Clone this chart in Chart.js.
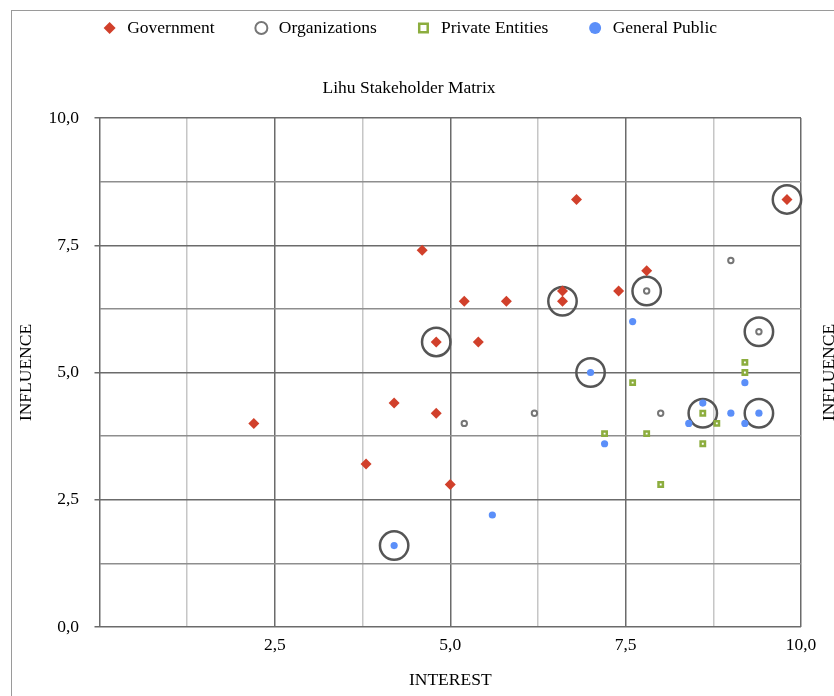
<!DOCTYPE html>
<html>
<head>
<meta charset="utf-8">
<title>Lihu Stakeholder Matrix</title>
<script src="https://cdn.jsdelivr.net/npm/chart.js@4.4.0/dist/chart.umd.min.js"></script>
<style>
  body { margin: 0; background: #fff; overflow: hidden; }
  #frame { position: absolute; left: 11px; top: 10px; width: 900px; height: 800px;
           border-left: 1.5px solid #9a9a9a; border-top: 1.5px solid #9a9a9a; }
  #wrap { position: absolute; left: 0; top: 0; width: 834px; height: 696px; }
</style>
</head>
<body>
<div id="frame"></div>
<div id="wrap"><canvas id="myChart"></canvas></div>
<script>
// scores: x = interest, y = influence
var govInterest = [2.2, 3.8, 4.2, 4.6, 4.8, 4.8, 5.0, 5.2, 5.4, 5.8, 6.6, 6.6, 6.8, 7.4, 7.8, 9.8];
var govInfluence = [4.0, 3.2, 4.4, 7.4, 5.6, 4.2, 2.8, 6.4, 5.6, 6.4, 6.6, 6.4, 8.4, 6.6, 7.0, 8.4];

var orgInterest = [5.2, 6.2, 7.8, 8.0, 9.0, 9.4];
var orgInfluence = [4.0, 4.2, 6.6, 4.2, 7.2, 5.8];

var privInterest = [7.2, 7.6, 7.8, 8.0, 8.6, 8.6, 8.8, 9.2, 9.2];
var privInfluence = [3.8, 4.8, 3.8, 2.8, 4.2, 3.6, 4.0, 5.2, 5.0];

var pubInterest = [4.2, 5.6, 7.0, 7.2, 7.6, 8.4, 8.6, 9.0, 9.2, 9.2, 9.4];
var pubInfluence = [1.6, 2.2, 5.0, 3.6, 6.0, 4.0, 4.4, 4.2, 4.8, 4.0, 4.2];

// stakeholders that are circled on the matrix
var keyInterest = [9.8, 4.8, 6.6, 7.8, 9.4, 7.0, 8.6, 9.4, 4.2];
var keyInfluence = [8.4, 5.6, 6.4, 6.6, 5.8, 5.0, 4.2, 4.2, 1.6];

var majorTicks = [0, 2.5, 5, 7.5, 10];

function pts(xs, ys) {
    return xs.map(function(x, i) { return {x: x, y: ys[i]}; });
}

function isMajor(v) {
    return majorTicks.some(function(t) { return Math.abs(t - v) < 1e-6; });
}

function fmt(v) {
    return v.toFixed(1).replace('.', ',');
}

Chart.defaults.font.family = '"Liberation Serif", "Times New Roman", serif';
Chart.defaults.font.size = 17.5;
Chart.defaults.font.lineHeight = 1;
Chart.defaults.color = '#000';

// second INFLUENCE label on the right edge (cut off like the original)
var rightTitle = {
    id: 'rightTitle',
    afterDraw: function(chart) {
        var ctx = chart.ctx;
        var a = chart.chartArea;
        ctx.save();
        ctx.translate(833.5, (a.top + a.bottom) / 2);
        ctx.rotate(-Math.PI / 2);
        ctx.font = '17.5px "Liberation Serif", serif';
        ctx.fillStyle = '#000';
        ctx.textAlign = 'center';
        ctx.textBaseline = 'alphabetic';
        ctx.fillText('INFLUENCE', 0, 0);
        ctx.restore();
    }
};

var ctx = document.getElementById('myChart').getContext('2d');

var myChart = new Chart(ctx, {
    type: 'scatter',
    data: {
        datasets: [
        {
            label: 'Government',
            data: pts(govInterest, govInfluence),
            pointStyle: 'rectRot',
            pointRadius: 5.5,
            backgroundColor: '#d1402b',
            borderColor: '#d1402b',
            borderWidth: 0
        },
        {
            label: 'Organizations',
            data: pts(orgInterest, orgInfluence),
            pointStyle: 'circle',
            pointRadius: 2.7,
            backgroundColor: '#ffffff',
            borderColor: '#767676',
            borderWidth: 2
        },
        {
            label: 'Private Entities',
            data: pts(privInterest, privInfluence),
            pointStyle: 'rect',
            pointRadius: 3.1,
            backgroundColor: '#ffffff',
            borderColor: '#8cad3e',
            borderWidth: 2.5
        },
        {
            label: 'General Public',
            data: pts(pubInterest, pubInfluence),
            pointStyle: 'circle',
            pointRadius: 3.6,
            backgroundColor: '#5b8ff9',
            borderColor: '#5b8ff9',
            borderWidth: 0
        },
        {
            label: 'key',
            data: pts(keyInterest, keyInfluence),
            pointStyle: 'circle',
            pointRadius: 14.2,
            backgroundColor: 'rgba(0,0,0,0)',
            borderColor: '#555555',
            borderWidth: 2.5,
            clip: false
        }]
    },
    options: {
        responsive: true,
        maintainAspectRatio: false,
        animation: false,
        layout: {
            padding: {top: -18.75, left: 17, right: 33, bottom: 0}
        },
        plugins: {
            tooltip: {enabled: false},
            legend: {
                position: 'top',
                labels: {
                    usePointStyle: true,
                    boxHeight: 8.5,
                    padding: 38,
                    filter: function(item) { return item.datasetIndex < 4; }
                }
            },
            title: {
                display: true,
                text: 'Lihu Stakeholder Matrix',
                weight: 500,
                font: {weight: 'normal'},
                padding: {top: 32.5, bottom: 21.25}
            }
        },
        scales: {
            x: {
                type: 'linear',
                min: 0,
                max: 10,
                afterFit: function(scale) { scale.height = 69; },
                border: {display: false},
                grid: {
                    drawTicks: false,
                    lineWidth: 1.5,
                    color: function(c) { return isMajor(c.tick.value) ? '#6b6b6b' : '#c6c6c6'; }
                },
                ticks: {
                    stepSize: 1.25,
                    autoSkip: false,
                    maxRotation: 0,
                    padding: 10,
                    callback: function(v) { return (isMajor(v) && v !== 0) ? fmt(v) : ''; }
                },
                title: {
                    display: true,
                    text: 'INTEREST',
                    padding: {top: 0, bottom: 7.25}
                }
            },
            y: {
                type: 'linear',
                min: 0,
                max: 10,
                afterFit: function(scale) { scale.width = 82.5; },
                border: {display: false},
                grid: {
                    tickLength: 5,
                    lineWidth: 1.5,
                    color: function(c) { return isMajor(c.tick.value) ? '#6b6b6b' : '#8e8e8e'; },
                    tickColor: function(c) { return isMajor(c.tick.value) ? '#6b6b6b' : 'rgba(0,0,0,0)'; }
                },
                ticks: {
                    stepSize: 1.25,
                    autoSkip: false,
                    padding: 15.5,
                    callback: function(v) { return isMajor(v) ? fmt(v) : ''; }
                },
                title: {
                    display: true,
                    text: 'INFLUENCE',
                    padding: {top: 0.25, bottom: 0}
                }
            }
        }
    },
    plugins: [rightTitle]
});
</script>
</body>
</html>
